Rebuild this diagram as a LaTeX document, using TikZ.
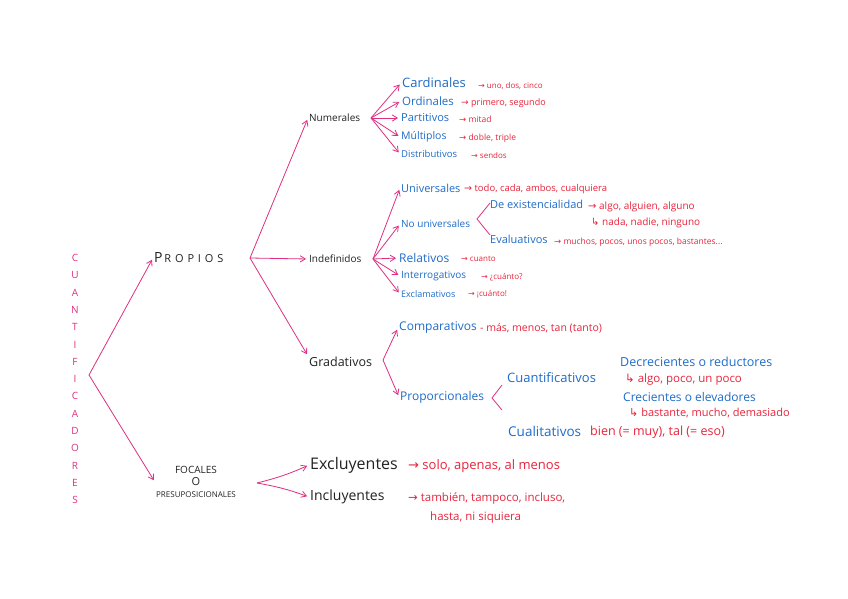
\documentclass[tikz,border=0pt]{standalone}
\usepackage{fontspec}
\setmainfont{Open Sans}
\newfontfamily\symfont{DejaVu Sans}
\usepackage{xcolor}
\definecolor{pinkln}{HTML}{DE2F82}
\definecolor{inkblue}{HTML}{1F6CC9}
\definecolor{inkred}{HTML}{E8243C}
\definecolor{inkblk}{HTML}{222222}
\usetikzlibrary{arrows.meta,positioning}
\newcommand\fsz[1]{\fontsize{#1}{#1}\selectfont}
\newcommand\rto{{\symfont →}}
\newcommand\hto{{\symfont ↳}}
\tikzset{
  >={Straight Barb[length=1.8mm,width=2.2mm]},
  vert/.style={font=\fsz{10},text=pinkln,inner sep=0pt},
  lvl/.style={font=\fsz{11},text=inkblk,inner sep=1pt,anchor=west},
  kind/.style={font=\fsz{10},text=inkblue,inner sep=1pt,anchor=west},
  ex/.style={font=\fsz{8},text=inkred,inner sep=1pt,anchor=west},
  arr/.style={->,draw=pinkln,line width=0.8pt,shorten >=2pt},
  brc/.style={draw=pinkln,line width=0.8pt},
}
\begin{document}
\begin{tikzpicture}[x=1pt,y=-1pt]
\useasboundingbox[fill=white] (0,0) rectangle (848,599);
\foreach \l [count=\i] in {C,U,A,N,T,I,F,I,C,A,D,O,R,E,S}
  \node[vert] (q\i) at (75,{258+(\i-1)*17.3}) {\l};
\coordinate (rt) at (89,375);
\node[lvl] (prop) at (153,258) {{\fsz{14}P}\,{\fsz{11}\addfontfeature{LetterSpace=35}ROPIOS}};
\node[lvl,align=center,anchor=center] (foc) at (196,482) {{\fsz{10}FOCALES}\\[1pt]{\fsz{11}O}\\[1pt]{\fsz{8}PRESUPOSICIONALES}};
\coordinate (propR) at (250,258);
\coordinate (focR) at (257,483);
\node[lvl,font=\fsz{10}] (num) at (308,118) {Numerales};
\node[lvl,font=\fsz{10}] (ind) at (308,259) {Indefinidos};
\node[lvl,font=\fsz{12.5}] (gra) at (308,362) {Gradativos};
\node[lvl,font=\fsz{16}] (exc) at (309,465) {Excluyentes};
\node[lvl,font=\fsz{14}] (inc) at (309,497) {Incluyentes};
\coordinate (numR) at (371,118);
\coordinate (indR) at (373,259);
\coordinate (graR) at (383,360);
\node[kind,font=\fsz{13}] (card) at (401,83) {Cardinales};
\node[kind,font=\fsz{11.5}] (ord) at (401,101) {Ordinales};
\node[kind,font=\fsz{11}] (part) at (400,118) {Partitivos};
\node[kind,font=\fsz{10.5}] (mult) at (400,137) {Múltiplos};
\node[kind,font=\fsz{9.5}] (dist) at (400,154) {Distributivos};
\node[ex] at (477,86) {\rto\ uno, dos, cinco};
\node[ex,font=\fsz{9}] at (460,103) {\rto\ primero, segundo};
\node[ex,font=\fsz{8.5}] at (458,119) {\rto\ mitad};
\node[ex,font=\fsz{8.5}] at (458,138) {\rto\ doble, triple};
\node[ex] at (470,155) {\rto\ sendos};
\node[kind,font=\fsz{11}] (univ) at (400,188) {Universales};
\node[kind] (nuniv) at (400,224) {No universales};
\node[kind,font=\fsz{11}] (dex) at (489,204) {De existencialidad};
\node[kind,font=\fsz{11}] (eval) at (489,239) {Evaluativos};
\node[kind,font=\fsz{12}] (rel) at (398,258) {Relativos};
\node[kind,font=\fsz{10}] (intr) at (400,276) {Interrogativos};
\node[kind,font=\fsz{9}] (excl) at (400,294) {Exclamativos};
\node[ex,font=\fsz{9.5}] at (463,189) {\rto\ todo, cada, ambos, cualquiera};
\node[ex,font=\fsz{10}] at (587,207) {\rto\ algo, alguien, alguno};
\node[ex,font=\fsz{10}] at (590,223) {\hto\ nada, nadie, ninguno};
\node[ex,font=\fsz{8.5}] at (553,242) {\rto\ muchos, pocos, unos pocos, bastantes...};
\node[ex] at (460,259) {\rto\ cuanto};
\node[ex] at (480,277) {\rto\ ¿cuánto?};
\node[ex] at (467,294) {\rto\ ¡cuánto!};
\node[kind,font=\fsz{12}] (comp) at (398,328) {Comparativos};
\node[kind,font=\fsz{12}] (prp) at (399,397) {Proporcionales};
\node[kind,font=\fsz{13}] (cuan) at (506,378) {Cuantificativos};
\node[kind,font=\fsz{13.5}] (cual) at (507,431) {Cualitativos};
\node[kind,font=\fsz{12.5}] (decr) at (619,362) {Decrecientes o reductores};
\node[kind,font=\fsz{12}] (crec) at (622,397) {Crecientes o elevadores};
\node[ex,font=\fsz{10.5}] at (479,328) {- más, menos, tan (tanto)};
\node[ex,font=\fsz{11.5}] at (624,380) {\hto\ algo, poco, un poco};
\node[ex,font=\fsz{11}] at (628,413) {\hto\ bastante, mucho, demasiado};
\node[ex,font=\fsz{12.5}] at (589,432) {bien (= muy), tal (= eso)};
\node[ex,font=\fsz{13}] at (407,466) {\rto\ solo, apenas, al menos};
\node[ex,font=\fsz{11.5}] at (407,498) {\rto\ también, tampoco, incluso,};
\node[ex,font=\fsz{11.5}] at (429,518) {hasta, ni siquiera};
\draw[arr] (rt) -- (prop.west);
\draw[arr] (rt) -- (foc.west);
\draw[arr] (propR) -- (num.west);
\draw[arr] (propR) -- (ind.west);
\draw[arr] (propR) -- (gra.north west);
\draw[arr] (focR) to[bend right=5] (exc.west);
\draw[arr] (focR) to[bend left=5] (inc.west);
\foreach \n in {card,ord,part,mult,dist} \draw[arr] (numR) -- (\n.west);
\foreach \n in {univ,nuniv,rel,intr,excl} \draw[arr] (indR) -- (\n.west);
\foreach \n in {comp,prp} \draw[arr] (graR) -- (\n.west);
\draw[brc] (490,203) -- (477,219) -- (490,235);
\draw[brc] (502,385) -- (492,398) -- (502,410);
\end{tikzpicture}
\end{document}
